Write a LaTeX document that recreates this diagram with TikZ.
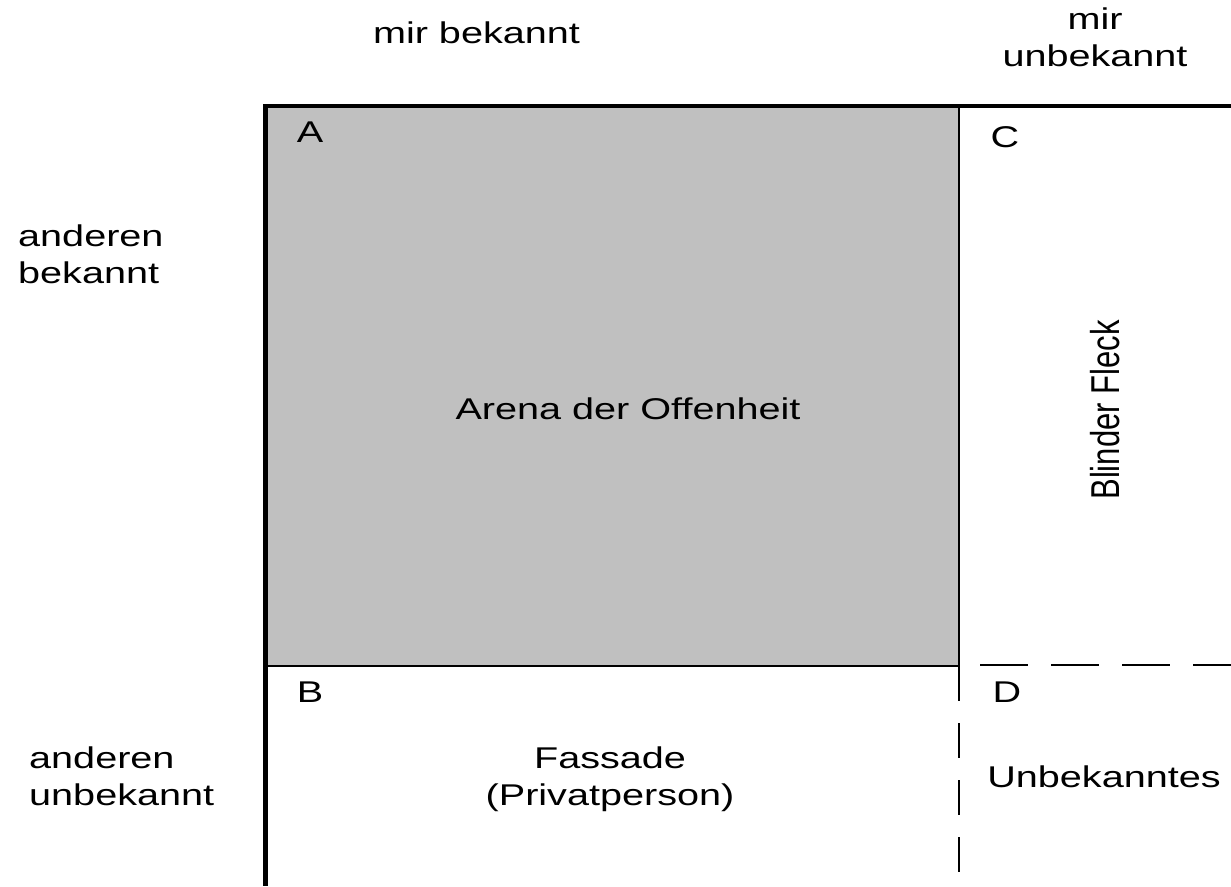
\documentclass[tikz,border=0pt]{standalone}
\usepackage{fontspec}
\usepackage{graphicx}
\setmainfont{Liberation Sans}[FakeStretch=1.32]
\newfontfamily\uprightsans{Liberation Sans}
\begin{document}
\begin{tikzpicture}[x=1pt,y=-1pt,
  lbl/.style={inner sep=0pt, anchor=base, font=\fontsize{30}{37}\selectfont},
  border/.style={line width=4.5pt, black},
  divider/.style={line width=2.5pt, black},
  hdash/.style={divider, dash pattern=on 48pt off 23pt},
  vdash/.style={divider, dash pattern=on 35pt off 22pt}]
\useasboundingbox (0,0) rectangle (1231,886);

% quadrant A: open area
\fill[fill={rgb,255:red,192;green,192;blue,192}] (266,106) rectangle (959,666);

% dividing lines
\draw[divider] (959,106) -- (959,666);
\draw[divider] (266,666) -- (959,666);
\draw[hdash] (980,665) -- (1231,665);
\draw[vdash] (959,666) -- (959,886);

% outer frame
\draw[border] (263.5,106) -- (1231,106);
\draw[border] (265.5,104) -- (265.5,886);

% axis labels (two-line labels are anchored at their last baseline)
\node[lbl] (mirbek) at (476.5,43) {mir bekannt};
\node[lbl, align=center] (mirunbek) at (1095,66) {mir\\unbekannt};
\node[lbl, align=left, anchor=base west] (andbek) at (18,283) {anderen\\bekannt};
\node[lbl, align=left, anchor=base west] (andunbek) at (29,805) {anderen\\unbekannt};

% quadrant letters
\node[lbl] (la) at (310,142) {A};
\node[lbl] (lc) at (1005,147) {C};
\node[lbl] (lb) at (310,702) {B};
\node[lbl] (ld) at (1007,702) {D};

% quadrant names
\node[lbl] (arena) at (628,419) {Arena der Offenheit};
\node[lbl, rotate=90] (blind) at (1119,410)
  {\uprightsans\fontsize{31}{37}\selectfont\scalebox{1}[1.3]{Blinder Fleck}};
\node[lbl, align=center] (fassade) at (610,805) {Fassade\\(Privatperson)};
\node[lbl] (unbek) at (1104,787) {Unbekanntes};
\end{tikzpicture}
\end{document}
